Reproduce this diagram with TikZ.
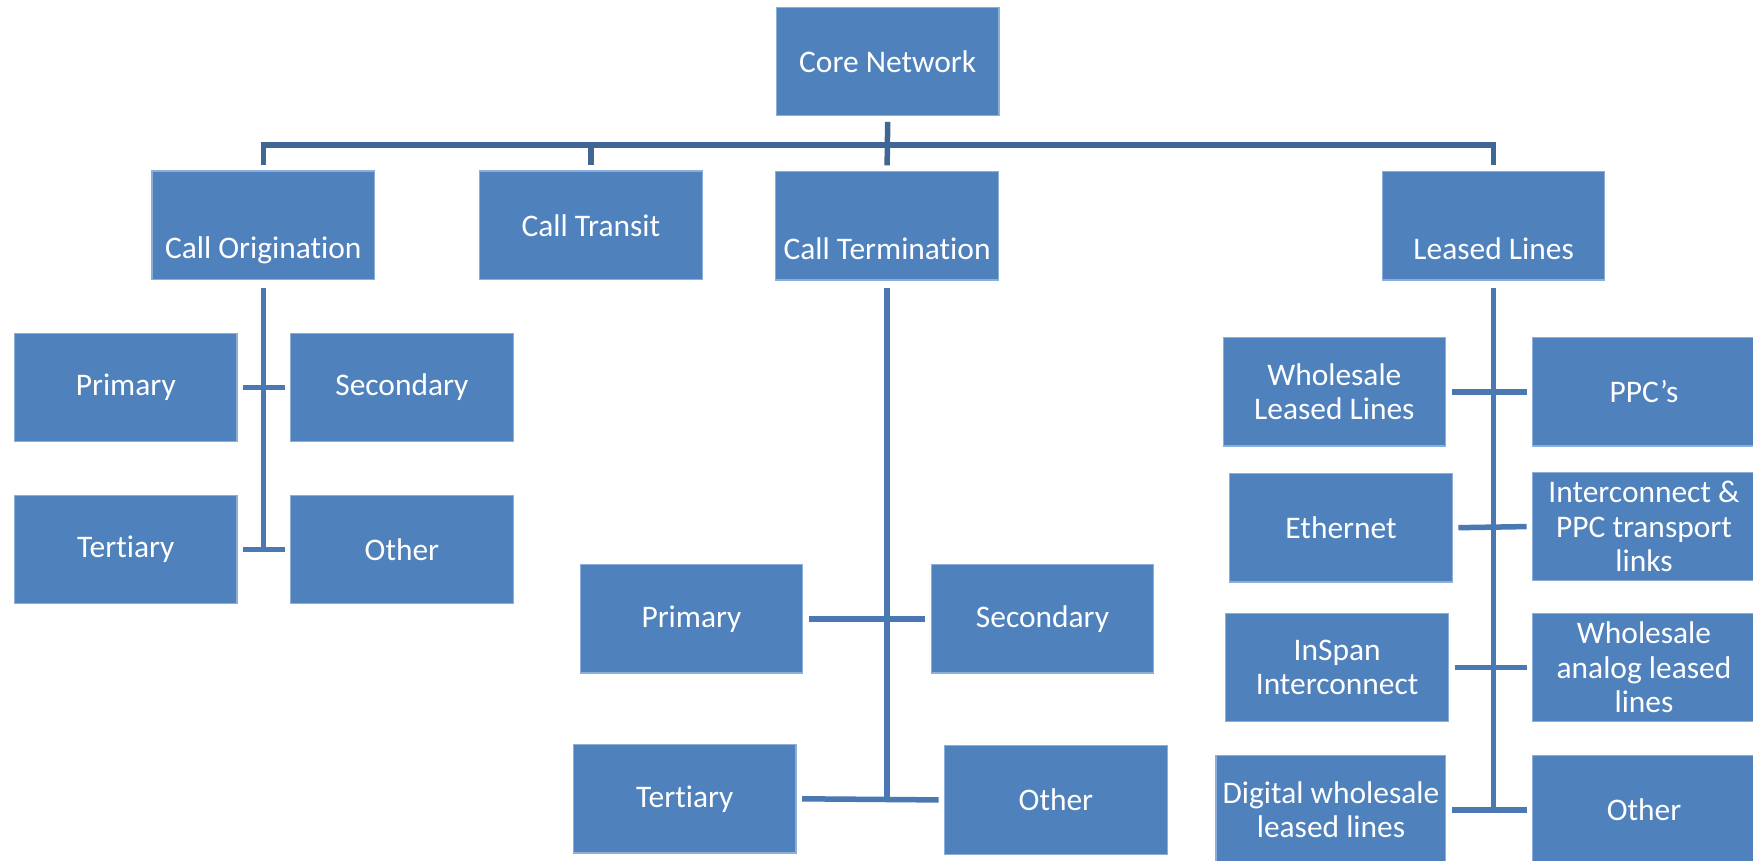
\documentclass[tikz,border=0pt]{standalone}
\usepackage{fontspec}
\setmainfont{Carlito}[Ligatures={NoCommon,NoContextual}]
\usetikzlibrary{positioning}
\definecolor{boxblue}{HTML}{4F81BD}
\definecolor{boxedge}{HTML}{8EAEDA}
\definecolor{busblue}{HTML}{3F6694}
\definecolor{linkblue}{HTML}{4A78B3}
\tikzset{
  box/.style={draw=boxedge, line width=0.6pt, fill=boxblue, text=white,
    minimum width=3.98cm, minimum height=1.94cm, align=center,
    font=\fontsize{16}{17.5}\selectfont},
  lowtext/.style={text=white, anchor=base, font=\fontsize{16}{17.5}\selectfont},
  bus/.style={draw=busblue, line width=2.8pt},
  link/.style={draw=linkblue, line width=2.8pt}
}
\begin{document}
\begin{tikzpicture}
\useasboundingbox (0,0) rectangle (31.36,15.4);
% top level
\node[box] (core) at (15.88,14.30) {Core Network};
\node[box, label={[lowtext, yshift=0.38cm]south:Call Origination}] (orig) at (4.71,11.37) {};
\node[box] (transit) at (10.57,11.37) {Call Transit};
\node[box, label={[lowtext, yshift=0.38cm]south:Call Termination}] (term) at (15.87,11.36) {};
\node[box, label={[lowtext, yshift=0.38cm]south:Leased Lines}] (leased) at (26.72,11.36) {};
\coordinate (bus) at ([yshift=-0.51cm]core.south);
\draw[bus] ([yshift=0.1cm]orig.north) |- (bus) -| ([yshift=0.1cm]leased.north);
\draw[bus] ([yshift=0.1cm]transit.north) -- (transit.north |- bus);
\draw[bus] ([yshift=-0.1cm]core.south) -- ([yshift=0.1cm]term.north);
% call origination
\node[box] (prim1) at (2.25,8.47) {Primary};
\node[box] (sec1) at (7.19,8.47) {Secondary};
\node[box] (tert1) at (2.25,5.57) {Tertiary};
\node[box] (oth1) at (7.19,5.57) {Other};
\draw[link] ([yshift=-0.14cm]orig.south) -- (orig.south |- tert1.east);
\draw[link] ([xshift=0.1cm]prim1.east) -- ([xshift=-0.1cm]sec1.west);
\draw[link] ([xshift=0.1cm]tert1.east) -- ([xshift=-0.1cm]oth1.west);
% call termination
\node[box] (prim2) at (12.37,4.33) {Primary};
\node[box] (sec2) at (18.65,4.33) {Secondary};
\node[box] (tert2) at (12.25,1.11) {Tertiary};
\node[box] (oth2) at (18.89,1.09) {Other};
\draw[link] ([yshift=-0.14cm]term.south) -- (term.south |- oth2.west);
\draw[link] ([xshift=0.1cm]prim2.east) -- ([xshift=-0.1cm]sec2.west);
\draw[link] ([xshift=0.1cm]tert2.east) -- ([xshift=-0.1cm]oth2.west);
% leased lines
\node[box] (wll) at (23.87,8.39) {Wholesale\\Leased Lines};
\node[box] (ppc) at (29.41,8.39) {PPC’s};
\node[box] (eth) at (23.99,5.96) {Ethernet};
\node[box] (ippc) at (29.41,5.98) {Interconnect \&\\PPC transport\\links};
\node[box] (insp) at (23.92,3.46) {InSpan\\Interconnect};
\node[box] (wal) at (29.41,3.46) {Wholesale\\analog leased\\lines};
\node[box] (dwl) at (23.81,0.91) {Digital wholesale\\leased lines};
\node[box] (oth3) at (29.41,0.91) {Other};
\draw[link] ([yshift=-0.14cm]leased.south) -- (leased.south |- oth3.west);
\draw[link] ([xshift=0.1cm]wll.east) -- ([xshift=-0.1cm]ppc.west);
\draw[link] ([xshift=0.1cm]eth.east) -- ([xshift=-0.1cm]ippc.west);
\draw[link] ([xshift=0.1cm]insp.east) -- ([xshift=-0.1cm]wal.west);
\draw[link] ([xshift=0.1cm]dwl.east) -- ([xshift=-0.1cm]oth3.west);
\end{tikzpicture}
\end{document}
